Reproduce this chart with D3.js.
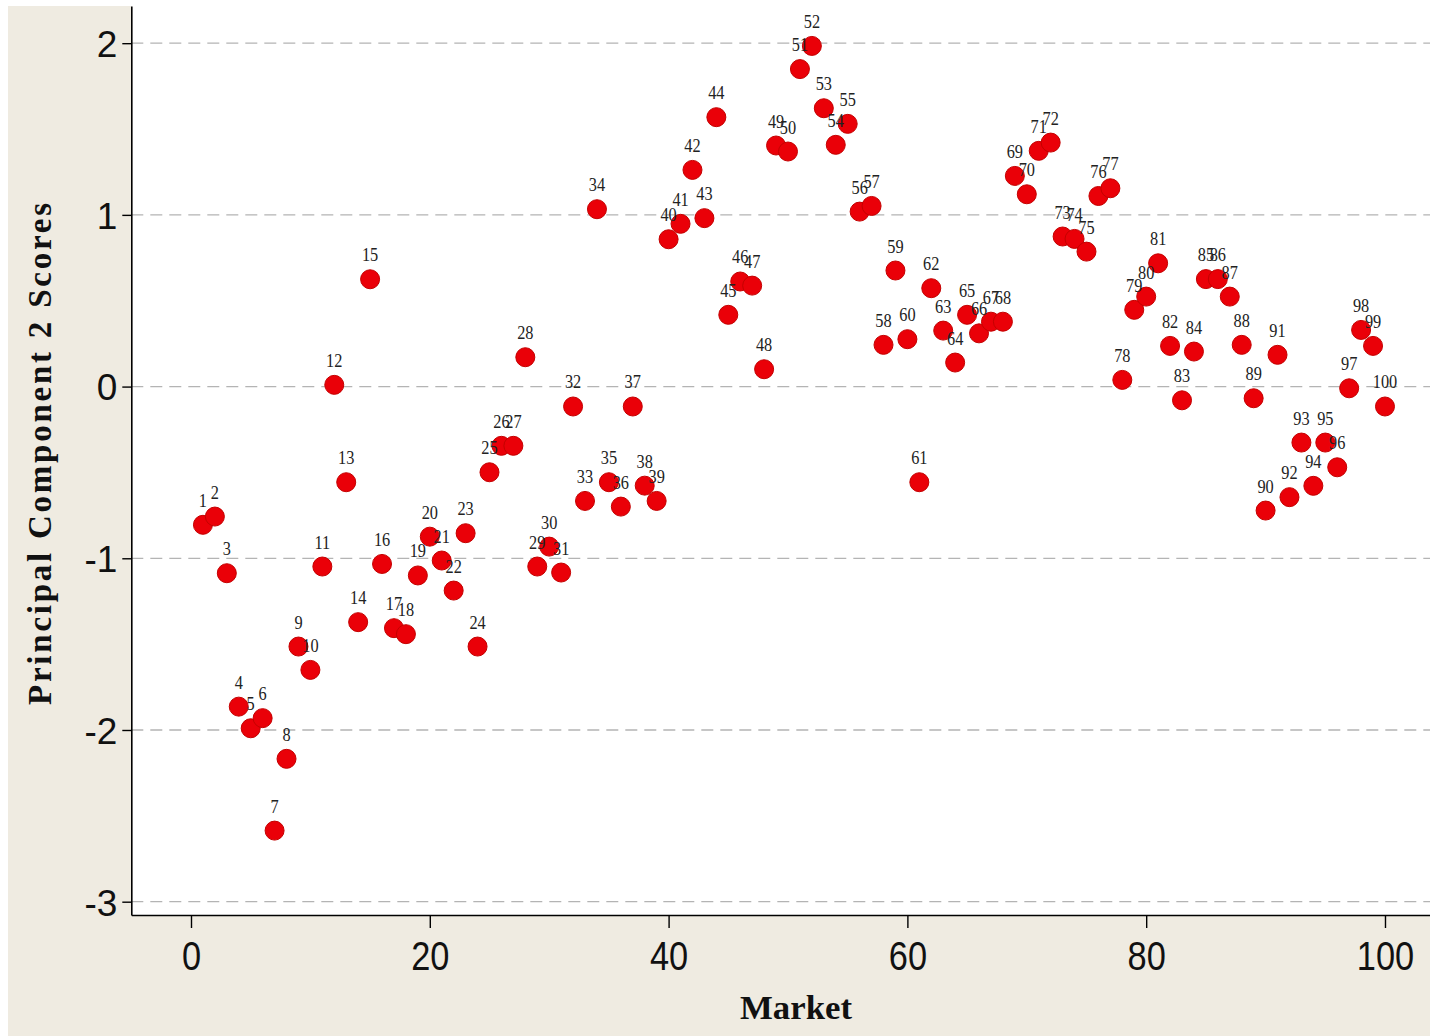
<!DOCTYPE html>
<html>
<head>
<meta charset="utf-8">
<script src="https://cdn.jsdelivr.net/npm/d3@7"></script>
<style>
html,body{margin:0;padding:0;background:#ffffff;}
svg{display:block;}
</style>
</head>
<body>
<svg id="chart" width="1430" height="1036"></svg>
<script>
// ---- data ----
const markets = [1,2,3,4,5,6,7,8,9,10,11,12,13,14,15,16,17,18,19,20,21,22,23,24,25,26,27,28,29,30,31,32,33,34,35,36,37,38,39,40,41,42,43,44,45,46,47,48,49,50,51,52,53,54,55,56,57,58,59,60,61,62,63,64,65,66,67,68,69,70,71,72,73,74,75,76,77,78,79,80,81,82,83,84,85,86,87,88,89,90,91,92,93,94,95,96,97,98,99,100];
const scores = [
  -0.805,-0.757,-1.087,-1.864,-1.990,-1.931,-2.586,-2.168,-1.514,-1.650,
  -1.048, 0.010,-0.557,-1.372, 0.625,-1.033,-1.407,-1.442,-1.100,-0.874,
  -1.013,-1.188,-0.854,-1.514,-0.499,-0.345,-0.345, 0.171,-1.048,-0.932,
  -1.083,-0.116,-0.666, 1.033,-0.557,-0.699,-0.116,-0.577,-0.666, 0.858,
   0.948, 1.262, 0.981, 1.569, 0.418, 0.612, 0.588, 0.101, 1.404, 1.369,
   1.849, 1.984, 1.621, 1.408, 1.530, 1.019, 1.052, 0.243, 0.676, 0.276,
  -0.557, 0.573, 0.326, 0.140, 0.418, 0.310, 0.378, 0.378, 1.227, 1.120,
   1.373, 1.421, 0.874, 0.860, 0.786, 1.110, 1.155, 0.039, 0.447, 0.524,
   0.718, 0.237,-0.080, 0.204, 0.626, 0.626, 0.524, 0.243,-0.068,-0.722,
   0.185,-0.644,-0.326,-0.578,-0.326,-0.470,-0.010, 0.330, 0.237,-0.116
];
const xTicks = [0,20,40,60,80,100];
const yTicks = [-3,-2,-1,0,1,2];
const xTitle = "Market";
const yTitle = "Principal Component 2 Scores";

// ---- layout ----
const W = 1430, H = 1036;
const plotLeft = 131.3, plotRight = 1430, plotTop = 6, plotBottom = 915;

const svg = d3.select("#chart");

// backgrounds
svg.append("rect").attr("x",0).attr("y",0).attr("width",W).attr("height",H).attr("fill","#ffffff");
svg.append("rect").attr("x",8).attr("y",6).attr("width",W-8).attr("height",H-6).attr("fill","#efebe1");
svg.append("rect").attr("x",plotLeft).attr("y",plotTop)
  .attr("width",plotRight-plotLeft).attr("height",plotBottom-plotTop).attr("fill","#ffffff");

const x = d3.scaleLinear().domain([-5, 103.77]).range([plotLeft, plotRight]);
const y = d3.scaleLinear().domain([-3.0775, 2.2165]).range([plotBottom, plotTop]);

// gridlines
svg.append("g").selectAll("line").data(yTicks).join("line")
  .attr("x1", plotLeft).attr("x2", plotRight)
  .attr("y1", d => y(d)).attr("y2", d => y(d))
  .attr("stroke","#b4b4b4").attr("stroke-width",1.3)
  .attr("stroke-dasharray","12,7");

const fmt = d => String(d);

// axes
const xAxis = d3.axisBottom(x).tickValues(xTicks).tickFormat(fmt).tickSize(13).tickSizeOuter(0).tickPadding(4);
const gx = svg.append("g").attr("transform",`translate(0,${plotBottom})`).call(xAxis);
gx.select(".domain").attr("stroke","#000").attr("stroke-width",1.6);
gx.selectAll(".tick line").attr("stroke","#000").attr("stroke-width",1.4);
gx.selectAll(".tick text").attr("font-family","'Liberation Sans', Arial, sans-serif")
  .attr("font-size",40).attr("fill","#111").attr("y",null).attr("dy",null)
  .attr("transform", "translate(0,55) scale(0.86,1)");

const yAxis = d3.axisLeft(y).tickValues(yTicks).tickFormat(fmt).tickSize(9).tickSizeOuter(0).tickPadding(5);
const gy = svg.append("g").attr("transform",`translate(${plotLeft},0)`).call(yAxis);
gy.select(".domain").attr("stroke","#000").attr("stroke-width",1.6);
gy.selectAll(".tick line").attr("stroke","#000").attr("stroke-width",1.4);
gy.selectAll(".tick text").attr("font-family","'Liberation Sans', Arial, sans-serif")
  .attr("font-size",37).attr("fill","#111").attr("dy","0.36em");

// points
const pts = markets.map((m,i) => ({m, v: scores[i]}));
svg.append("g").selectAll("circle").data(pts).join("circle")
  .attr("cx", d => x(d.m)).attr("cy", d => y(d.v)).attr("r", 9.5)
  .attr("fill","#ea0008").attr("stroke","#c40000").attr("stroke-width",1);

// point labels
svg.append("g").selectAll("text").data(pts).join("text")
  .attr("transform", d => `translate(${x(d.m)},${y(d.v)-18}) scale(0.86,1)`)
  .attr("text-anchor","middle")
  .attr("font-family","'Liberation Serif', 'Times New Roman', serif")
  .attr("font-size",19).attr("fill","#222")
  .text(d => d.m);

// axis titles
svg.append("text").attr("x",796).attr("y",1019)
  .attr("text-anchor","middle")
  .attr("font-family","'Liberation Serif', 'Times New Roman', serif")
  .attr("font-weight","bold").attr("font-size",33).attr("fill","#111")
  .attr("textLength",112).attr("lengthAdjust","spacingAndGlyphs")
  .text(xTitle);

svg.append("text")
  .attr("transform","translate(51,454) rotate(-90)")
  .attr("text-anchor","middle")
  .attr("font-family","'Liberation Serif', 'Times New Roman', serif")
  .attr("font-weight","bold").attr("font-size",33).attr("fill","#111")
  .attr("textLength",502).attr("lengthAdjust","spacing")
  .text(yTitle);
</script>
</body>
</html>
